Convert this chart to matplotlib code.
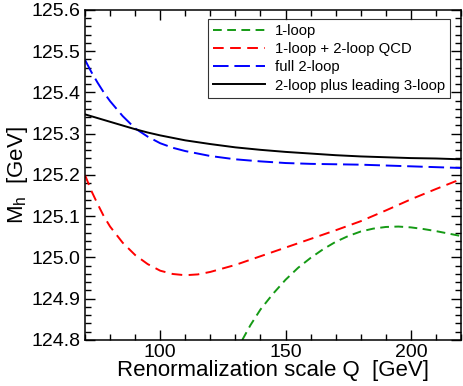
import matplotlib
matplotlib.use("Agg")
import matplotlib.pyplot as plt
from matplotlib.ticker import MultipleLocator

plt.rcParams["font.family"] = ["Liberation Sans", "DejaVu Sans"]
plt.rcParams["mathtext.fontset"] = "custom"
plt.rcParams["mathtext.rm"] = "Liberation Sans"
plt.rcParams["mathtext.it"] = "Liberation Sans"

# Higgs mass vs renormalization scale
q_black = [70, 75, 80, 85, 90, 95, 100, 110, 120, 130, 140, 150, 160, 170, 180, 190, 200, 210, 220]
m_black = [125.347, 125.338, 125.329, 125.320, 125.311, 125.303, 125.296, 125.284, 125.275,
           125.267, 125.261, 125.256, 125.252, 125.248, 125.245, 125.243, 125.241, 125.240, 125.238]

q_blue = [70, 72.5, 75, 77.5, 80, 85, 90, 95, 100, 105, 110, 120, 130, 140, 150, 160, 170, 180, 190, 200, 210, 220]
m_blue = [125.479, 125.450, 125.424, 125.400, 125.379, 125.343, 125.313, 125.293, 125.277, 125.266,
          125.258, 125.246, 125.238, 125.233, 125.229, 125.227, 125.226, 125.225, 125.223, 125.221,
          125.219, 125.217]

q_red = [70, 72.5, 75, 77.5, 80, 85, 90, 95, 100, 105, 110, 115, 120, 130, 140, 150, 160, 170,
         180, 190, 200, 210, 220]
m_red = [125.200, 125.162, 125.130, 125.100, 125.075, 125.036, 125.006, 124.984, 124.968, 124.960,
         124.957, 124.959, 124.965, 124.982, 125.003, 125.024, 125.045, 125.066, 125.088, 125.114,
         125.141, 125.166, 125.190]

q_green = [130, 133, 136, 140, 145, 150, 155, 160, 165, 170, 175, 180, 185, 190, 195, 200, 205,
           210, 215, 220]
m_green = [124.770, 124.803, 124.836, 124.874, 124.912, 124.946, 124.975, 124.999, 125.020, 125.038,
           125.052, 125.063, 125.070, 125.074, 125.075, 125.073, 125.069, 125.064, 125.058, 125.052]

fig = plt.figure(figsize=(4.63, 3.86), dpi=100)
ax = fig.add_axes([0.1836, 0.1192, 0.8121, 0.8549])

lw = 1.4
ax.plot(q_green, m_green, color="#159a15", lw=lw, dashes=(4.5, 2.8), label="1-loop")
ax.plot(q_red, m_red, color="#ff0000", lw=lw, dashes=(5.5, 3.3), label="1-loop + 2-loop QCD")
ax.plot(q_blue, m_blue, color="#0000ff", lw=lw, dashes=(8, 3), label="full 2-loop")
ax.plot(q_black, m_black, color="black", lw=lw, label="2-loop plus leading 3-loop")

ax.set_xlim(70, 220)
ax.set_ylim(124.8, 125.6)
ax.xaxis.set_major_locator(MultipleLocator(50))
ax.xaxis.set_minor_locator(MultipleLocator(10))
ax.yaxis.set_major_locator(MultipleLocator(0.1))
ax.yaxis.set_minor_locator(MultipleLocator(0.02))
ax.yaxis.set_major_formatter(matplotlib.ticker.FormatStrFormatter("%.1f"))

ax.tick_params(which="both", direction="in", top=True, right=True, width=1.0, labelsize=14)
ax.tick_params(which="major", length=7, pad=3)
ax.tick_params(which="minor", length=4)
for s in ax.spines.values():
    s.set_linewidth(1.1)

ax.set_xlabel("Renormalization scale Q  [GeV]", fontsize=16, labelpad=-1)
ax.set_ylabel(r"M$_{\rm h}$  [GeV]", fontsize=16, labelpad=1)

leg = ax.legend(loc="upper right", bbox_to_anchor=(0.971, 0.973), fontsize=10.7,
                frameon=True, fancybox=False, handlelength=3.5, handletextpad=0.65,
                borderpad=0.35, labelspacing=0.28, borderaxespad=0)
leg.get_frame().set_edgecolor("black")
leg.get_frame().set_linewidth(0.8)

fig.savefig("out.png", dpi=100)
